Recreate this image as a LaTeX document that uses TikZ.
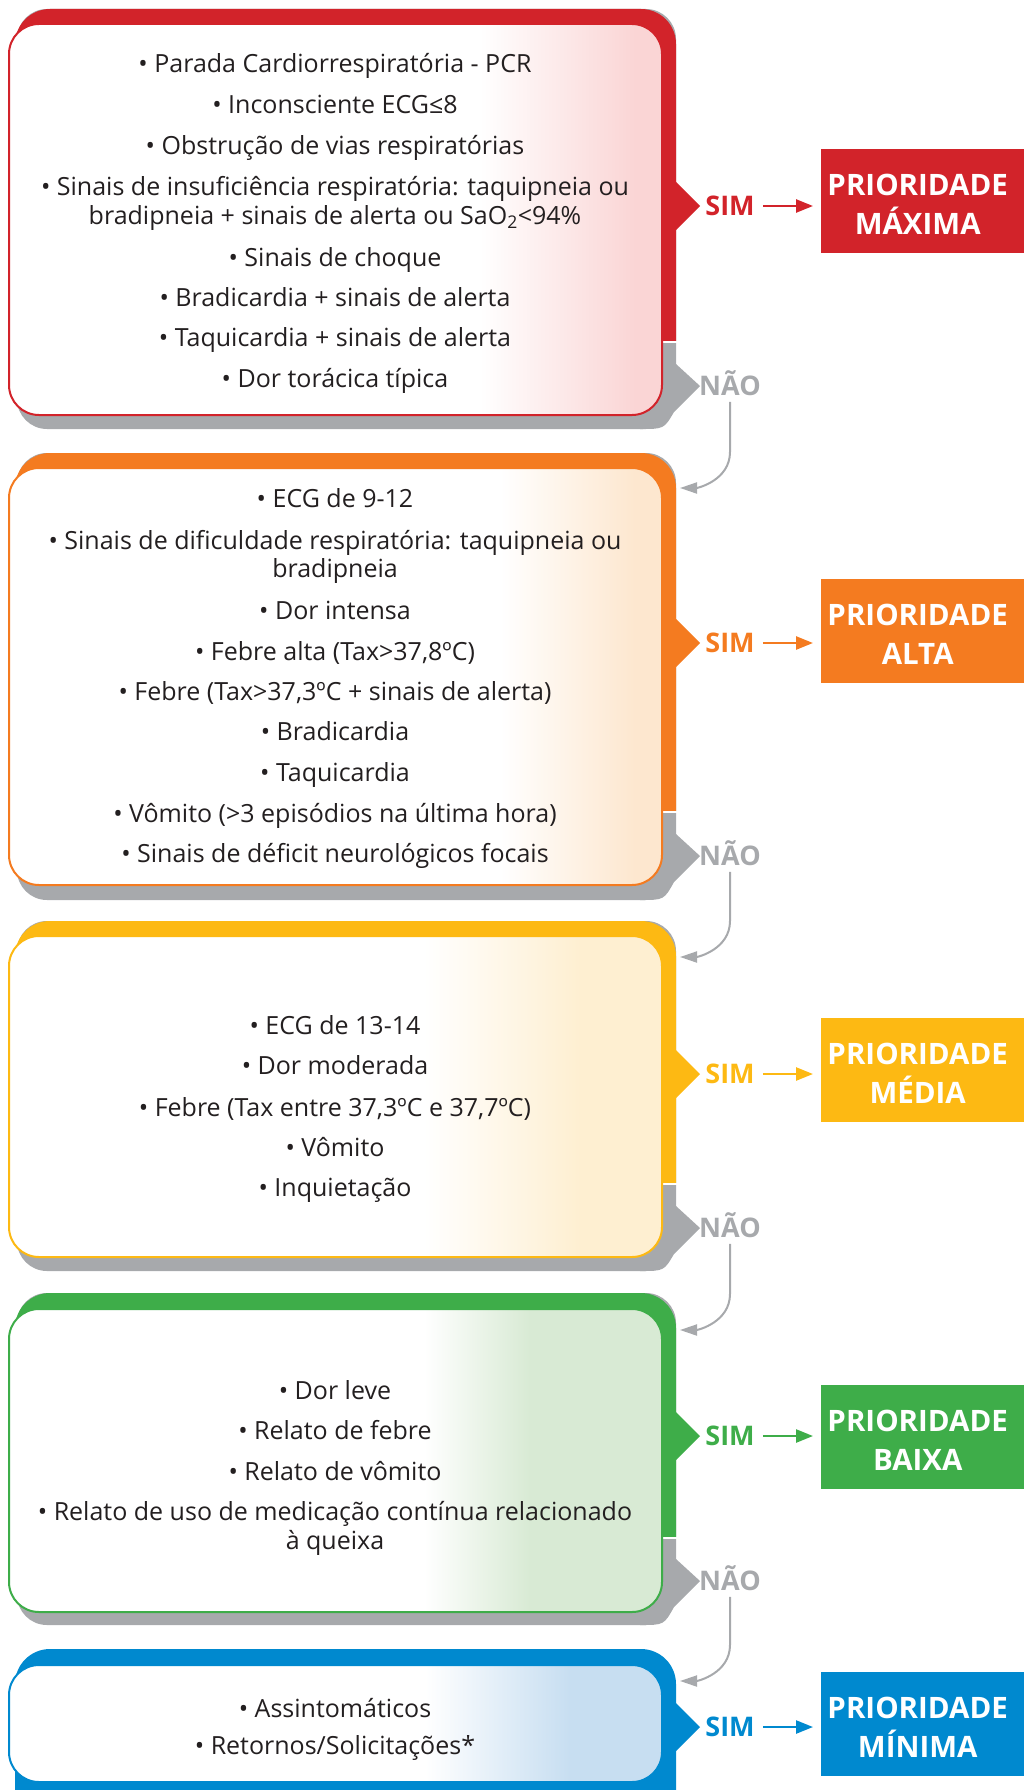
\documentclass[tikz,border=0pt]{standalone}
\usepackage{fontspec}
\setmainfont{Open Sans}
\usetikzlibrary{arrows.meta}
\definecolor{cred}{RGB}{210,35,42}
\definecolor{corange}{RGB}{244,123,32}
\definecolor{cyellow}{RGB}{253,185,19}
\definecolor{cgreen}{RGB}{62,173,73}
\definecolor{cblue}{RGB}{0,137,207}
\definecolor{cgray}{RGB}{167,169,172}
\definecolor{tred}{RGB}{250,213,213}
\definecolor{torange}{RGB}{253,231,207}
\definecolor{tyellow}{RGB}{254,239,209}
\definecolor{tgreen}{RGB}{216,234,212}
\definecolor{tblue}{RGB}{199,222,241}
\definecolor{txt}{RGB}{35,31,32}
% outer shape: #1 colour, #2 top, #3 SIM y, #4 split y, #5 NAO y, #6 bottom
\newcommand\myouter[6]{%
  \fill[cgray, rounded corners=30pt] (17,#2) rectangle (676,#6);
  \fill[cgray] (640,#5-22) -- (676,#5-22) -- (700,#5) -- (674,#5+26)
     .. controls (664,#6) .. (640,#6) -- cycle;
  \begin{scope}
    \clip (0,#2-5) rectangle (720,#4-1);
    \fill[#1, rounded corners=35pt] (15,#2) rectangle (676,#6);
  \end{scope}
  \fill[#1] (670,#3-24) -- (676,#3-24) -- (700,#3) -- (676,#3+24) -- (670,#3+24) -- cycle;
  \fill[white] (630,#4-1) rectangle (690,#4+1);
}
% inner box: #1 colour, #2 tint, #3 top, #4 bottom, #5 gradient start, #6 gradient end
\newcommand\myinner[6]{%
  \begin{scope}
    \clip[rounded corners=30pt] (9,#3) rectangle (662,#4);
    \fill[white] (0,#3) rectangle (700,#4);
    \shade[left color=white, right color=#2] (#5,#3) rectangle (#6,#4);
    \fill[#2] (#6-0.5,#3) rectangle (700,#4);
  \end{scope}
  \draw[#1, line width=2pt, rounded corners=30pt] (9,#3) rectangle (662,#4);
}
\tikzset{
  itm/.style={font=\fontsize{25}{30}\selectfont, anchor=base, inner sep=0pt, text=txt},
  lbl/.style={font=\fontsize{27}{30}\selectfont\bfseries, inner sep=0pt, text height=19.5pt, text depth=0pt},
  pbox/.style={minimum width=203pt, minimum height=104pt, inner sep=0pt, anchor=north west},
  ptxt/.style={font=\fontsize{29.5}{39}\selectfont\bfseries, text=white, align=center, inner sep=0pt},
  simarr/.style={line width=2.5pt, -{Triangle[length=17pt,width=13pt]}},
  naoarr/.style={cgray, line width=2pt, -{Triangle[length=17pt,width=11pt]}}
}
\begin{document}
\begin{tikzpicture}[x=1pt,y=-1pt]
\useasboundingbox (0,0) rectangle (1024,1790);
\clip (0,0) rectangle (1024,1790);

% ---------------- block 1 : red
\myouter{cred}{9}{206}{342}{386}{429}
\myinner{cred}{tred}{24}{415}{480}{635}
\node[itm] (a1) at (335,73) {• Parada Cardiorrespiratória - PCR};
\node[itm] (a2) at (335,114) {• Inconsciente ECG≤8};
\node[itm] (a3) at (335,155) {• Obstrução de vias respiratórias};
\node[itm] (a4) at (335,196) {• Sinais de insuficiência respiratória: taquipneia ou};
\node[itm] (a5) at (335,224) {bradipneia + sinais de alerta ou SaO\textsubscript{2}<94\%};
\node[itm] (a6) at (335,266) {• Sinais de choque};
\node[itm] (a7) at (335,306) {• Bradicardia + sinais de alerta};
\node[itm] (a8) at (335,346) {• Taquicardia + sinais de alerta};
\node[itm] (a9) at (335,387) {• Dor torácica típica};
\node[lbl, text=cred] (s1) at (730,206) {SIM};
\node[pbox, fill=cred] (p1) at (821,149) {};
\node[ptxt] (p1t) at ([xshift=-5pt,yshift=-3.5pt]p1.center) {PRIORIDADE\\MÁXIMA};
\draw[simarr, cred] ([xshift=8pt]s1.east) -- ([xshift=-8pt]s1.east -| p1.west);
\node[lbl, text=cgray] (n1) at (730,386) {NÃO};
\coordinate (e1) at (680,488);
\draw[naoarr] ([yshift=-6pt]n1.south) -- ([yshift=36pt]n1.south |- e1)
   .. controls ([yshift=8pt]n1.south |- e1) and ([xshift=18pt]e1) .. (e1);

% ---------------- block 2 : orange
\myouter{corange}{453}{643}{812}{856}{900}
\myinner{corange}{torange}{468}{885}{500}{635}
\node[itm] (b1) at (335,507) {• ECG de 9-12};
\node[itm] (b2) at (335,549) {• Sinais de dificuldade respiratória: taquipneia ou};
\node[itm] (b3) at (335,577) {bradipneia};
\node[itm] (b4) at (335,619) {• Dor intensa};
\node[itm] (b5) at (335,660) {• Febre alta (Tax>37,8ºC)};
\node[itm] (b6) at (335,700) {• Febre (Tax>37,3ºC + sinais de alerta)};
\node[itm] (b7) at (335,740) {• Bradicardia};
\node[itm] (b8) at (335,781) {• Taquicardia};
\node[itm] (b9) at (335,822) {• Vômito (>3 episódios na última hora)};
\node[itm] (b10) at (335,862) {• Sinais de déficit neurológicos focais};
\node[lbl, text=corange] (s2) at (730,643) {SIM};
\node[pbox, fill=corange] (p2) at (821,579) {};
\node[ptxt] (p2t) at ([xshift=-5pt,yshift=-3.5pt]p2.center) {PRIORIDADE\\ALTA};
\draw[simarr, corange] ([xshift=8pt]s2.east) -- ([xshift=-8pt]s2.east -| p2.west);
\node[lbl, text=cgray] (n2) at (730,856) {NÃO};
\coordinate (e2) at (680,957);
\draw[naoarr] ([yshift=-6pt]n2.south) -- ([yshift=36pt]n2.south |- e2)
   .. controls ([yshift=8pt]n2.south |- e2) and ([xshift=18pt]e2) .. (e2);

% ---------------- block 3 : yellow
\myouter{cyellow}{921}{1074}{1184}{1228}{1271}
\myinner{cyellow}{tyellow}{936}{1257}{424}{580}
\node[itm] (c1) at (335,1034) {• ECG de 13-14};
\node[itm] (c2) at (335,1074) {• Dor moderada};
\node[itm] (c3) at (335,1116) {• Febre (Tax entre 37,3ºC e 37,7ºC)};
\node[itm] (c4) at (335,1156) {• Vômito};
\node[itm] (c5) at (335,1196) {• Inquietação};
\node[lbl, text=cyellow] (s3) at (730,1074) {SIM};
\node[pbox, fill=cyellow] (p3) at (821,1018) {};
\node[ptxt] (p3t) at ([xshift=-5pt,yshift=-3.5pt]p3.center) {PRIORIDADE\\MÉDIA};
\draw[simarr, cyellow] ([xshift=8pt]s3.east) -- ([xshift=-8pt]s3.east -| p3.west);
\node[lbl, text=cgray] (n3) at (730,1228) {NÃO};
\coordinate (e3) at (680,1330);
\draw[naoarr] ([yshift=-6pt]n3.south) -- ([yshift=36pt]n3.south |- e3)
   .. controls ([yshift=8pt]n3.south |- e3) and ([xshift=18pt]e3) .. (e3);

% ---------------- block 4 : green
\myouter{cgreen}{1293}{1436}{1538}{1581}{1625}
\myinner{cgreen}{tgreen}{1309}{1612}{424}{530}
\node[itm] (d1) at (335,1399) {• Dor leve};
\node[itm] (d2) at (335,1439) {• Relato de febre};
\node[itm] (d3) at (335,1480) {• Relato de vômito};
\node[itm] (d4) at (335,1520) {• Relato de uso de medicação contínua relacionado};
\node[itm] (d5) at (335,1549) {à queixa};
\node[lbl, text=cgreen] (s4) at (730,1436) {SIM};
\node[pbox, fill=cgreen] (p4) at (821,1385) {};
\node[ptxt] (p4t) at ([xshift=-5pt,yshift=-3.5pt]p4.center) {PRIORIDADE\\BAIXA};
\draw[simarr, cgreen] ([xshift=8pt]s4.east) -- ([xshift=-8pt]s4.east -| p4.west);
\node[lbl, text=cgray] (n4) at (730,1581) {NÃO};
\coordinate (e4) at (680,1681);
\draw[naoarr] ([yshift=-6pt]n4.south) -- ([yshift=36pt]n4.south |- e4)
   .. controls ([yshift=8pt]n4.south |- e4) and ([xshift=18pt]e4) .. (e4);

% ---------------- block 5 : blue
\fill[cblue, rounded corners=35pt] (15,1649) rectangle (676,1850);
\fill[cblue] (670,1703) -- (676,1703) -- (700,1727) -- (676,1751) -- (670,1751) -- cycle;
\myinner{cblue}{tblue}{1665}{1782}{425}{570}
\node[itm] (f1) at (335,1717) {• Assintomáticos};
\node[itm] (f2) at (335,1754) {• Retornos/Solicitações*};
\node[lbl, text=cblue] (s5) at (730,1727) {SIM};
\node[pbox, fill=cblue] (p5) at (821,1672) {};
\node[ptxt] (p5t) at ([xshift=-5pt,yshift=-3.5pt]p5.center) {PRIORIDADE\\MÍNIMA};
\draw[simarr, cblue] ([xshift=8pt]s5.east) -- ([xshift=-8pt]s5.east -| p5.west);
\end{tikzpicture}
\end{document}
